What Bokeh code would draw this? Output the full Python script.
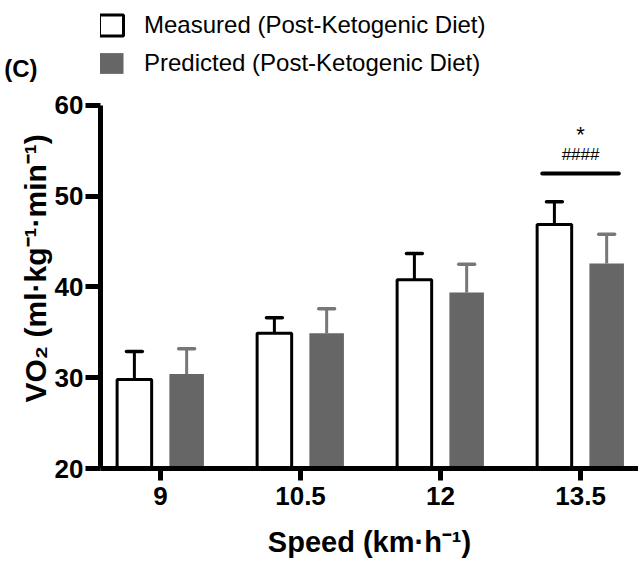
from bokeh.plotting import figure
from bokeh.models import (Range1d, FixedTicker, Legend, LegendItem, Title,
                          LinearAxis, ColumnDataSource)
from bokeh.embed import file_html
from bokeh.resources import INLINE
from bokeh.core.properties import value

# ---------------- data ----------------
speeds = [9, 10.5, 12, 13.5]
speed_labels = ["9", "10.5", "12", "13.5"]
measured = [29.8, 34.9, 40.8, 46.9]
measured_err = [3.1, 1.7, 2.9, 2.5]
predicted = [30.4, 34.9, 39.4, 42.6]
predicted_err = [2.8, 2.7, 3.1, 3.2]
y_ticks = [20, 30, 40, 50, 60]
series_names = ["Measured (Post-Ketogenic Diet)", "Predicted (Post-Ketogenic Diet)"]
x_title = "Speed (km\u00b7h\u207b\u00b9)"
y_title = "VO\u2082 (ml\u00b7kg\u207b\u00b9\u00b7min\u207b\u00b9)"
sig_speed = 13.5
sig_marks = ["*", "####"]
panel_letter = "(C)"

FONT = "Liberation Sans"
DODGE = 0.28
BAR_W = 0.37
CAP = 0.085

p = figure(width=638, height=565,
           x_range=Range1d(8.357, 14.121), y_range=Range1d(20, 71.57),
           output_backend="svg", toolbar_location=None,
           min_border_left=100, min_border_right=0,
           min_border_top=0, min_border_bottom=97)
p.outline_line_color = None
p.grid.visible = False
p.background_fill_color = "white"


def src(xs, vals, errs):
    return ColumnDataSource(dict(
        x=xs, top=vals, etop=[v + e for v, e in zip(vals, errs)],
        xl=[xx - CAP for xx in xs], xr=[xx + CAP for xx in xs]))


ms = src([s - DODGE for s in speeds], measured, measured_err)
ps = src([s + DODGE for s in speeds], predicted, predicted_err)

# error bars (upper only)
for s, c in ((ms, "black"), (ps, "#777777")):
    p.segment(x0="x", y0="top", x1="x", y1="etop", source=s, line_color=c, line_width=3)
    p.segment(x0="xl", y0="etop", x1="xr", y1="etop", source=s, line_color=c,
              line_width=3.5, line_cap="round")

r_meas = p.vbar(x="x", top="top", bottom=20, width=BAR_W, source=ms,
                fill_color="white", line_color="black", line_width=3)
r_pred = p.vbar(x="x", top="top", bottom=20, width=BAR_W, source=ps,
                fill_color="#666666", line_color=None)

# significance
sig_y = 52.5
p.segment(x0=[sig_speed - 0.41], y0=[sig_y], x1=[sig_speed + 0.41], y1=[sig_y],
          line_color="black", line_width=4, line_cap="round")
p.text(x=[sig_speed], y=[56.75], text=[sig_marks[0]],
       text_font=value(FONT), text_font_size="22px", text_align="center",
       text_baseline="middle", text_color="black")
p.text(x=[sig_speed], y=[54.6], text=[sig_marks[1]],
       text_font=value(FONT), text_font_size="17px", text_align="center",
       text_baseline="middle", text_color="black")

# axes
for ax in (p.xaxis[0], p.yaxis[0]):
    ax.axis_line_width = 5
    ax.axis_line_color = "black"
    ax.major_tick_line_width = 5
    ax.major_tick_line_color = "black"
    ax.major_tick_in = 0
    ax.minor_tick_line_color = None
    ax.major_label_text_font = FONT
    ax.major_label_text_font_style = "bold"
    ax.major_label_text_font_size = "26px"
    ax.major_label_text_color = "black"

p.xaxis.ticker = FixedTicker(ticks=speeds)
p.xaxis.major_label_overrides = {s: l for s, l in zip(speeds, speed_labels)}
p.xaxis.major_tick_out = 12
p.xaxis.major_label_standoff = 6
p.xaxis.axis_label = x_title
p.xaxis.axis_label_text_font = FONT
p.xaxis.axis_label_text_font_style = "bold"
p.xaxis.axis_label_text_font_size = "29px"
p.xaxis.axis_label_text_color = "black"
p.xaxis.axis_label_standoff = 18

p.yaxis.ticker = FixedTicker(ticks=y_ticks)
p.yaxis.bounds = (20, 60)
p.yaxis.major_tick_out = 15
p.yaxis.major_label_standoff = 2

# y axis title (offset upward from the frame bottom)
p.add_layout(Title(text=y_title, align="left", offset=66, standoff=0,
                   text_font=FONT, text_font_style="bold",
                   text_font_size="30px", text_color="black"), "left")

# panel letter, drawn as the only label of an invisible outer axis
letter_axis = LinearAxis(ticker=FixedTicker(ticks=[64.08]),
                         major_label_overrides={64.08: panel_letter},
                         axis_line_color=None, major_tick_line_color=None,
                         minor_tick_line_color=None, major_tick_out=0,
                         major_tick_in=0, major_label_standoff=-21,
                         major_label_text_font=FONT,
                         major_label_text_font_style="bold",
                         major_label_text_font_size="24px",
                         major_label_text_color="black")
p.add_layout(letter_axis, "left")

# legend
legend = Legend(items=[LegendItem(label=series_names[0], renderers=[r_meas]),
                       LegendItem(label=series_names[1], renderers=[r_pred])],
                location=(-4, 391), orientation="vertical",
                glyph_width=30, glyph_height=26, label_height=26,
                label_standoff=18, spacing=10, padding=0, margin=0,
                border_line_color=None, background_fill_alpha=0,
                label_text_font=FONT, label_text_font_size="24px",
                label_text_color="black")
p.add_layout(legend)

open("out.html", "w").write(file_html(p, INLINE))
